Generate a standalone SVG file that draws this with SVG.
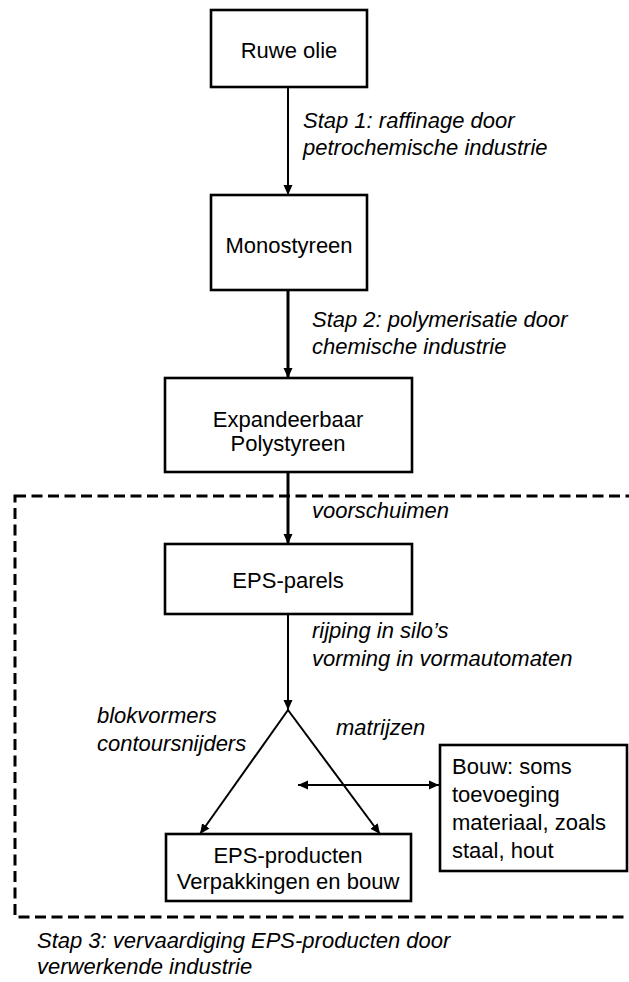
<svg xmlns="http://www.w3.org/2000/svg" width="629" height="982" viewBox="0 0 629 982">
<defs>
<marker id="ah" markerUnits="userSpaceOnUse" markerWidth="10" markerHeight="10" viewBox="0 0 10 10" refX="10" refY="5" orient="auto-start-reverse">
<path d="M0,0.5 L10,5 L0,9.5 z" fill="#000"/>
</marker>
</defs>
<style>
.box{fill:#fff;stroke:#000;stroke-width:2.6}
.t{font-family:"Liberation Sans",Arial,sans-serif;font-size:22px;fill:#000}
.c{text-anchor:middle}
.i{font-style:italic}
.ln{fill:none;stroke:#000;stroke-width:2}
.thk{stroke-width:3}
.dash{fill:none;stroke:#000;stroke-width:3;stroke-dasharray:11 5.5}
</style>
<rect class="dash" x="15" y="496" width="630" height="421"/>
<g id="connectors">
<line class="ln" x1="288" y1="87" x2="288" y2="195" marker-end="url(#ah)"/>
<line class="ln thk" x1="288" y1="290" x2="288" y2="378" marker-end="url(#ah)"/>
<line class="ln thk" x1="288" y1="472" x2="288" y2="544" marker-end="url(#ah)"/>
<line class="ln" x1="288" y1="614" x2="288" y2="710" marker-end="url(#ah)"/>
<line class="ln" x1="288" y1="710" x2="200" y2="834" marker-end="url(#ah)"/>
<line class="ln" x1="288" y1="710" x2="380" y2="834" marker-end="url(#ah)"/>
<line class="ln" x1="298" y1="785" x2="439" y2="785" marker-start="url(#ah)" marker-end="url(#ah)"/>
<text class="t i" x="303" y="128">Stap 1: raffinage door</text>
<text class="t i" x="303" y="155">petrochemische industrie</text>
<text class="t i" x="312" y="327">Stap 2: polymerisatie door</text>
<text class="t i" x="312" y="354">chemische industrie</text>
<text class="t i" x="312" y="518">voorschuimen</text>
<text class="t i" x="312" y="638">rijping in silo’s</text>
<text class="t i" x="312" y="666">vorming in vormautomaten</text>
<text class="t i" x="97" y="723">blokvormers</text>
<text class="t i" x="97" y="751">contoursnijders</text>
<text class="t i" x="336" y="735">matrijzen</text>
<text class="t i" x="37" y="948">Stap 3: vervaardiging EPS-producten door</text>
<text class="t i" x="37" y="974">verwerkende industrie</text>
</g>
<g id="ruwe-olie">
<rect class="box" x="211" y="10" width="156" height="77"/>
<text class="t c" x="289" y="58">Ruwe olie</text>
</g>
<g id="monostyreen">
<rect class="box" x="211" y="195" width="156" height="95"/>
<text class="t c" x="289" y="253">Monostyreen</text>
</g>
<g id="eps">
<rect class="box" x="165" y="378" width="247" height="94"/>
<text class="t c" x="288" y="427">Expandeerbaar</text>
<text class="t c" x="288" y="451">Polystyreen</text>
</g>
<g id="eps-parels">
<rect class="box" x="165" y="544" width="247" height="70"/>
<text class="t c" x="288" y="588">EPS-parels</text>
</g>
<g id="eps-producten">
<rect class="box" x="166" y="834" width="245" height="67"/>
<text class="t c" x="288" y="863">EPS-producten</text>
<text class="t c" x="288" y="889">Verpakkingen en bouw</text>
</g>
<g id="bouw">
<rect class="box" x="440" y="745" width="187" height="126"/>
<text class="t" x="452" y="774">Bouw: soms</text>
<text class="t" x="452" y="802">toevoeging</text>
<text class="t" x="452" y="830">materiaal, zoals</text>
<text class="t" x="452" y="858">staal, hout</text>
</g>
</svg>
